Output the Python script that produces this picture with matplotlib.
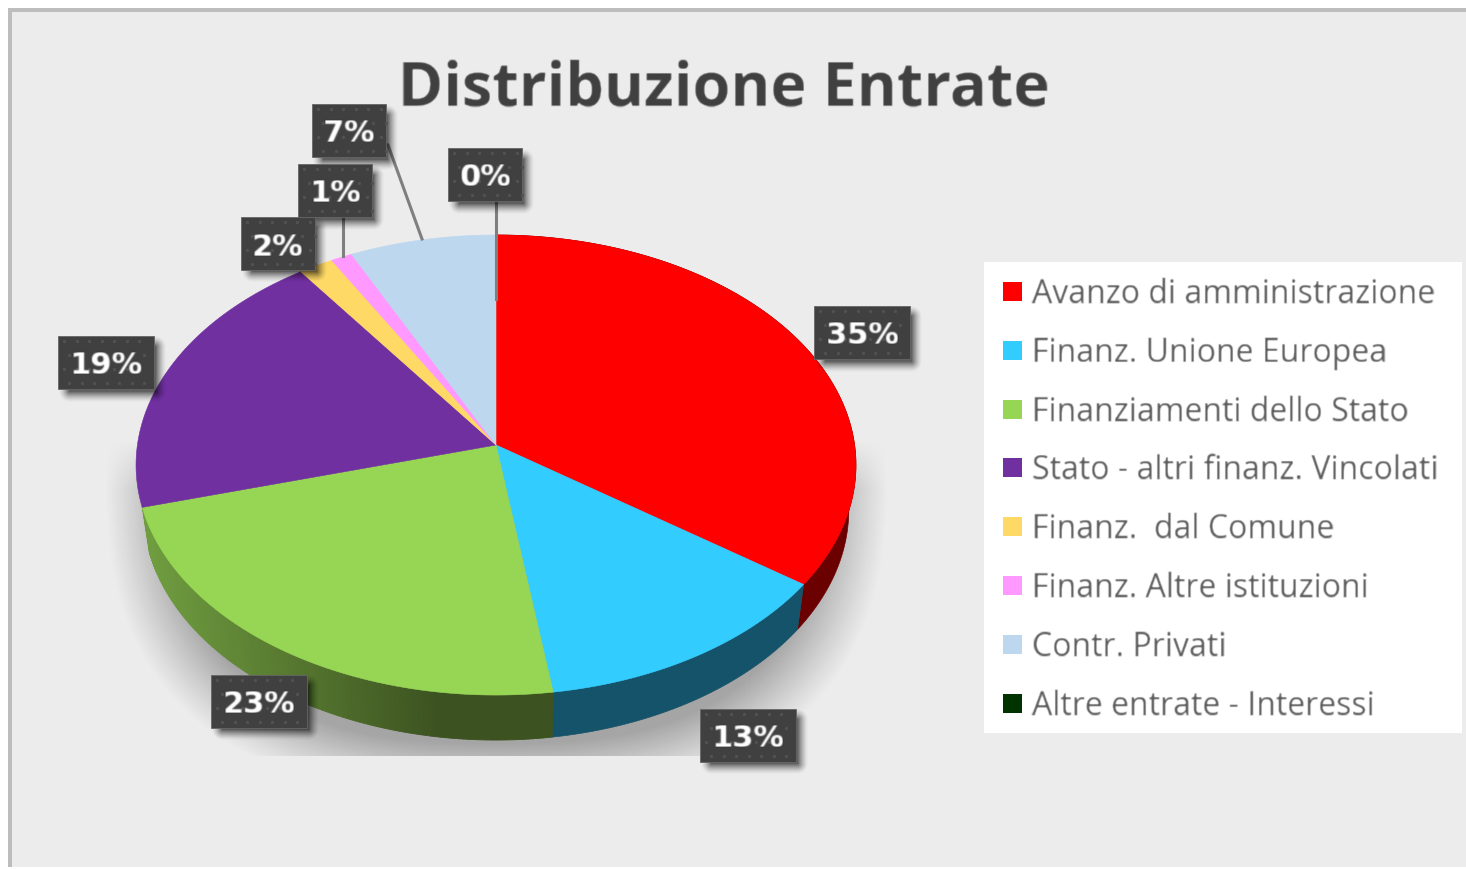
import numpy as np
import matplotlib
matplotlib.use('Agg')
import matplotlib.pyplot as plt
from matplotlib.patches import Rectangle

# dati
voci = ['Avanzo di amministrazione', 'Finanz. Unione Europea', 'Finanziamenti dello Stato',
        'Stato - altri finanz. Vincolati', 'Finanz.  dal Comune', 'Finanz. Altre istituzioni',
        'Contr. Privati', 'Altre entrate - Interessi']
valori = [34.85, 12.82, 23.03, 19.4, 1.7, 1.05, 7.15, 0.0]
etichette = ['35%', '13%', '23%', '19%', '2%', '1%', '7%', '0%']
colori = ['#ff0000', '#33ccff', '#97d655', '#7030a0', '#ffd966', '#ff99ff', '#bdd7ee', '#003300']
colori_lato = ['#6b0000', '#15536a']

# centro delle etichette in pixel
pos_etichette = [(862, 333), (748, 736), (259, 702), (106, 363), (278, 244), (335, 191), (349, 131), (485, 175)]

# geometria della torta: prospettiva sul cerchio
cx, cy = 496, 446
sx, sy = 358.6, 228.3
k = 0.087
prof = 45
strett = 0.98

fig = plt.figure(figsize=(14.66, 8.7), dpi=100, facecolor='white')
ax = fig.add_axes([0, 0, 1, 1])
ax.axis('off')


def bordo(f0, f1, n=120):
    t = 2 * np.pi * np.linspace(f0, f1, n) / 100
    u = np.sin(t)
    v = np.cos(t)
    w = 1 + k * v
    return cx + sx * u / w, cy - sy * v / w


def ombra_box(x0, y0, x1, y1, r=11, forza=0.6):
    # ombra solo in basso a destra
    xs = np.arange(x0, x1 + 20)
    ys = np.arange(y0, y1 + 20)
    X, Y = np.meshgrid(xs, ys)
    ddx = np.maximum(np.maximum(x0 + 11 - X, X - x1 - 1), 0)
    ddy = np.maximum(np.maximum(y0 + 11 - Y, Y - y1 - 2), 0)
    d = np.hypot(ddx, ddy)
    img = np.zeros(X.shape + (4,))
    img[..., 3] = forza * np.clip(1 - d / r, 0, 1) ** 1.5
    ax.imshow(img, extent=[xs[0], xs[-1] + 1, ys[-1] + 1, ys[0]], aspect='auto', zorder=6)


def sfoca(im, dpi):
    # testo un po' sfocato come nello screenshot
    pad = 2
    im2 = np.pad(im, ((pad, pad), (pad, pad), (0, 0)))
    ker = np.array([0.2, 0.6, 0.2])
    for asse in (0, 1):
        im2 = np.apply_along_axis(lambda m: np.convolve(m, ker, mode='same'), asse, im2)
    return im2, -pad, -pad


# sfondo e cornice
ax.add_patch(Rectangle((8, 9), 1466, 870, fc='#bdbdbd', ec='none', zorder=0))
ax.add_patch(Rectangle((12, 13), 1466, 855, fc='#ececec', ec='none', zorder=0.1))
ax.add_patch(Rectangle((0, 868), 1466, 2, fc='white', ec='none', zorder=0.2))

# ombra sotto la torta
xs = np.arange(100, 900)
ys = np.arange(430, 757)
X, Y = np.meshgrid(xs, ys)
p = 2.6
r = (np.abs((X - 496) / 392) ** p + np.abs((Y - 470) / 330) ** p) ** (1 / p)
alpha = 0.3 * np.clip((1 - r) / 0.17, 0, 1) ** 1.1 * np.clip((Y - 440) / 50, 0, 1)
img = np.zeros(X.shape + (4,))
img[..., 3] = alpha
ax.imshow(img, extent=[100, 900, 757, 430], aspect='auto', zorder=1)

# lati della torta (si vedono solo i tre spicchi davanti)
inizio = np.concatenate([[0], np.cumsum(valori)[:-1]])
for i in range(3):
    x, y = bordo(inizio[i], inizio[i] + valori[i])
    xb = cx + strett * (x - cx)
    yb = y + prof
    if i == 2:
        # gradiente sul verde
        base = np.array(matplotlib.colors.to_rgb('#6f9c3f'))
        scuro = np.array(matplotlib.colors.to_rgb('#3c5220'))
        for j in range(len(x) - 1):
            q = np.clip((x[j] - 150) / 290, 0, 1)
            c = base + (scuro - base) * q
            ax.fill([x[j], x[j + 1], xb[j + 1], xb[j]], [y[j], y[j + 1], yb[j + 1], yb[j]],
                    fc=c, ec=c, lw=0.6, zorder=2)
    else:
        ax.fill(np.concatenate([x, xb[::-1]]), np.concatenate([y, yb[::-1]]),
                fc=colori_lato[i], ec=colori_lato[i], lw=0.5, zorder=2)

# spicchi
for i in range(len(valori)):
    if valori[i] == 0:
        continue
    x, y = bordo(inizio[i], inizio[i] + valori[i])
    ax.fill(np.concatenate([[cx], x]), np.concatenate([[cy], y]),
            fc=colori[i], ec=colori[i], lw=0.4, zorder=3)

# linee guida
ax.plot([388, 422], [146, 240], color='#7f7f7f', lw=2.2, zorder=4)
ax.plot([343, 343], [217, 257], color='#7f7f7f', lw=2.2, zorder=4)
ax.plot([496, 496], [201, 300], color='#7f7f7f', lw=2.2, zorder=4)

# etichette
for i in range(len(etichette)):
    px, py = pos_etichette[i]
    w = 96 if len(etichette[i]) == 3 else 74
    h = 53
    x0, x1 = px - w / 2, px + w / 2
    y0, y1 = py - h / 2, py + h / 2
    ombra_box(x0, y0, x1, y1)
    ax.add_patch(Rectangle((x0, y0), w, h, fc='#404040', ec='#666666', lw=0.6, zorder=7))
    gx, gy = np.meshgrid(np.arange(x0 + 6, x1 - 5, 12.5), np.arange(y0 + 5, y1 - 2, 14))
    gx[1::2] += 5
    ax.scatter(gx.ravel(), gy.ravel(), s=6, marker='o', color='#515151', lw=0, zorder=7.5)
    t = ax.text(px, py + 3, etichette[i], color='white', fontsize=22, fontweight='bold',
                family='DejaVu Sans', ha='center', va='center', zorder=8)
    t.set_agg_filter(sfoca)

# titolo
t = ax.text(724, 106, 'Distribuzione Entrate', color='#404040', fontsize=44, fontweight='bold',
            family='Open Sans', ha='center', va='baseline', zorder=8)
t.set_agg_filter(sfoca)

# legenda
ax.add_patch(Rectangle((984, 263), 478, 471, fc='white', ec='none', zorder=5))
y_leg = 292
for i in range(len(voci)):
    ax.add_patch(Rectangle((1003, y_leg - 9), 19, 19, fc=colori[i], ec='none', zorder=6))
    t = ax.text(1032, y_leg + 11, voci[i], color='#595959', fontsize=23, family='Open Sans',
                ha='left', va='baseline', zorder=6)
    t.set_agg_filter(sfoca)
    y_leg += 58.8

ax.set_xlim(0, 1466)
ax.set_ylim(870, 0)
fig.savefig('out.png', dpi=100, facecolor='white')
